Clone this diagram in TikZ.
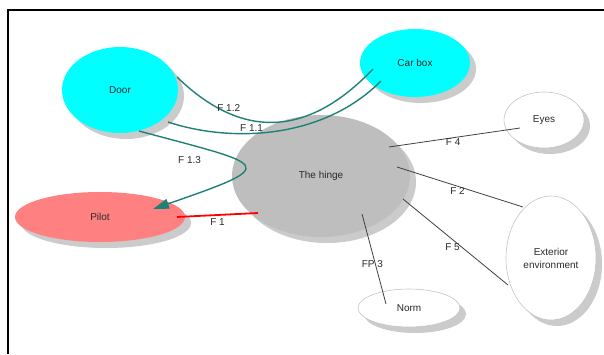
\documentclass[tikz,border=0pt]{standalone}
\usepackage{fontspec}
\setmainfont{Liberation Sans}
\usetikzlibrary{shapes.geometric,shadows,calc,arrows.meta}
\definecolor{partcyan}{HTML}{00FFFF}
\definecolor{hingegray}{HTML}{BEBEBE}
\definecolor{pilotred}{HTML}{FF8080}
\definecolor{shadowgray}{HTML}{CBCBCB}
\definecolor{rimgray}{HTML}{C4C4C4}
\definecolor{flowteal}{HTML}{1F8078}
\definecolor{linkgray}{HTML}{404040}
\definecolor{textgray}{HTML}{2A2A2A}
\begin{document}
\begin{tikzpicture}[x=1bp,y=-1bp,
    font=\fontsize{10bp}{13bp}\selectfont,
    blob/.style={ellipse, inner sep=0pt, text=textgray,
      drop shadow={shadow xshift=6bp, shadow yshift=-6bp,
        fill=shadowgray, opacity=1}},
    outer/.style={blob, fill=white, draw=rimgray, line width=0.6bp},
    flow/.style={flowteal, line width=1.4bp},
    link/.style={linkgray, line width=0.8bp},
    tag/.style={text=textgray, inner sep=1bp}]
  \useasboundingbox (0,0) rectangle (604,354);
  % frame
  \draw[line width=2bp] (8,354) -- (8,10) -- (604,10);
  \draw
    (120,90) node[blob, fill=partcyan, minimum width=116bp, minimum height=86bp] (door){Door}
    (415,63) node[blob, fill=partcyan, minimum width=110bp, minimum height=68bp] (carbox){Car box}
    (321,176) node[blob, fill=hingegray, minimum width=178bp, minimum height=122bp] (hinge){The hinge}
    (100,217) node[blob, fill=pilotred, minimum width=170bp, minimum height=50bp] (pilot){Pilot}
    (544,120) node[outer, minimum width=80bp, minimum height=56bp] (eyes){Eyes}
    (551,258) node[outer, minimum width=90bp, minimum height=124bp, align=center] (exterior){Exterior\\environment}
    (409,308) node[outer, minimum width=102bp, minimum height=38bp] (norm){Norm};
  \begin{scope}[flow]
    \draw ($(door)+(57,-13)$) .. controls +(70,68) and +(-60,63) .. ($(carbox)+(-42,6)$)
      node[tag, pos=.25, above] {F 1.2};
    \draw ($(door)+(48,32)$) .. controls +(60,20) and +(-60,60) .. ($(carbox)+(-34,18)$)
      node[tag, pos=.4, above] {F 1.1};
    \draw[-{Triangle[length=16bp,width=10bp]}] ($(door)+(19,41)$) .. controls +(130,35) and +(130,-45) .. ($(pilot)+(53,-8)$)
      node[tag, pos=.15, below=10bp] {F 1.3};
  \end{scope}
  \draw[red, line width=1.8bp] ($(pilot)+(77,0)$) -- ($(hinge)+(-63,37)$)
    node[tag, pos=.5, below=2bp] {F 1};
  \begin{scope}[link]
    \draw ($(hinge)+(68,-29)$) -- ($(eyes)+(-24,8)$) node[tag, pos=.49, below] {F 4};
    \draw ($(hinge)+(76,-9)$) -- ($(exterior)+(-28,-51)$) node[tag, pos=.48, below] {F 2};
    \draw ($(hinge)+(82,23)$) -- ($(exterior)+(-43,27)$) node[tag, pos=.5, xshift=-3bp, yshift=-5bp] {F 5};
    \draw ($(hinge)+(41,38)$) -- ($(norm)+(-23,-4)$) node[tag, pos=.56, xshift=-3bp] {FP 3};
  \end{scope}
\end{tikzpicture}
\end{document}
